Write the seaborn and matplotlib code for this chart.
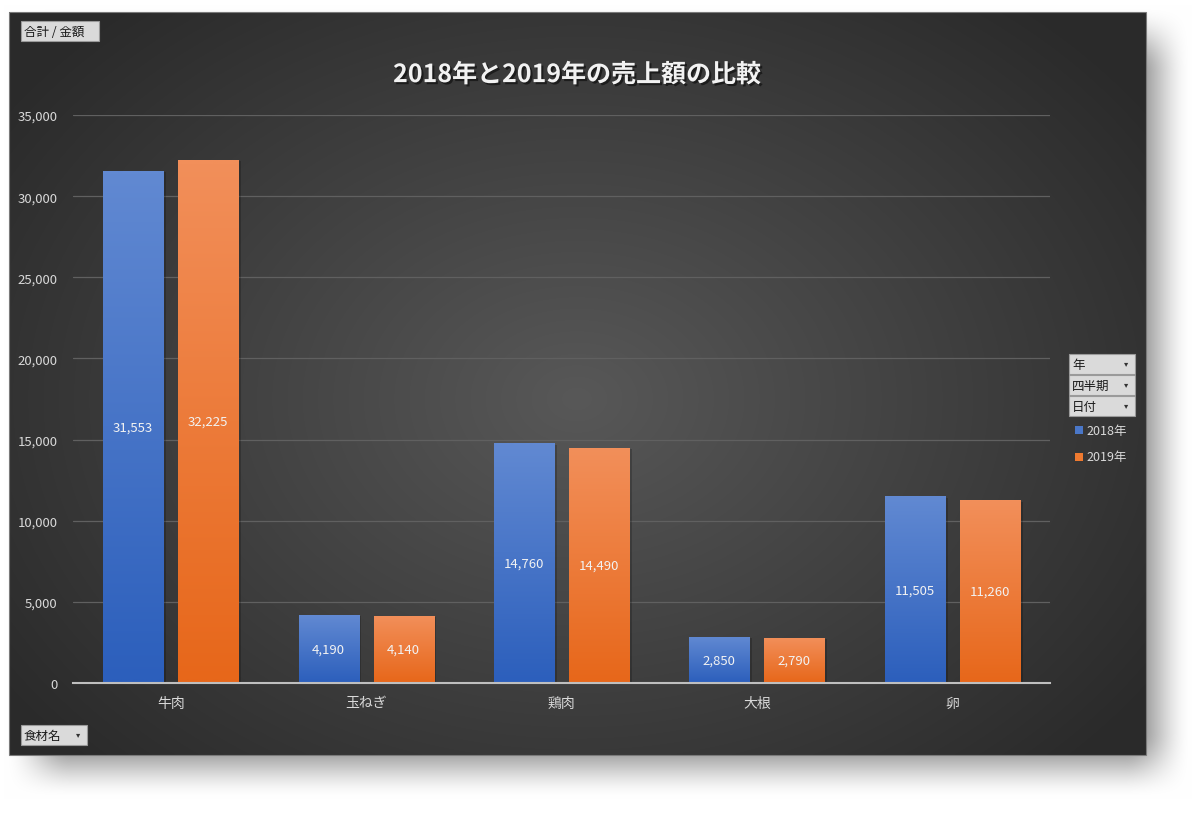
import matplotlib
matplotlib.use("Agg")
import matplotlib.pyplot as plt
import matplotlib.patheffects as pe
from matplotlib.colors import to_rgb
from matplotlib.patches import Rectangle
import numpy as np
import pandas as pd
import seaborn as sns

W, H = 1200, 829

foods = ["牛肉", "玉ねぎ", "鶏肉", "大根", "卵"]
years = ["2018年", "2019年"]
sales_2018 = [31553, 4190, 14760, 2850, 11505]
sales_2019 = [32225, 4140, 14490, 2790, 11260]
y_ticks = [0, 5000, 10000, 15000, 20000, 25000, 30000, 35000]

title = "2018年と2019年の売上額の比較"
palette = {"2018年": "#4a77c8", "2019年": "#ef7a30"}
grad = {"2018年": ("#6189d2", "#2c5fbc"), "2019年": ("#f28f5a", "#e7671a")}

sns.set_theme(style="white")
plt.rcParams["font.family"] = ["Noto Sans CJK JP", "DejaVu Sans"]
plt.rcParams["axes.unicode_minus"] = False


def smooth(v):
    v = np.clip(v, 0, 1)
    return v * v * (3 - 2 * v)


def ramp(v, lo, hi, blur):
    a = smooth((v - (lo - blur)) / (2 * blur))
    b = smooth(((hi + blur) - v) / (2 * blur))
    return np.minimum(a, b)


def background():
    yy, xx = np.mgrid[0:H, 0:W] + 0.5
    img = np.ones((H, W, 3))
    shadow = ramp(xx, 38, 1158, 34) * ramp(yy, 40, 766, 34)
    img *= (1 - 0.48 * shadow)[..., None]
    px0, px1, py0, py1 = 9, 1146, 13, 756
    cx, cy = 577, 400
    r = np.sqrt(((xx - cx) / 700) ** 2 + ((yy - cy) / 520) ** 2)
    val = 0.345 - 0.18 * np.clip(r, 0, 1)
    inside = (xx >= px0) & (xx <= px1) & (yy >= py0) & (yy <= py1)
    img[inside] = val[inside][:, None]
    return img


def button(bx, x0, y0, x1, y1, label, arrow=True):
    bx.add_patch(Rectangle((x0, y0), x1 - x0, y1 - y0, facecolor="#dadada",
                           edgecolor="#9a9a9a", lw=0.8, zorder=2))
    bx.text(x0 + 3, (y0 + y1) / 2, label, fontsize=9, color="#1a1a1a",
            ha="left", va="center", zorder=3)
    if arrow:
        bx.text(x1 - 9, (y0 + y1) / 2 - 1, "▾", fontsize=6, color="#333333",
                ha="center", va="center", zorder=3, family=["DejaVu Sans"])


fig = plt.figure(figsize=(W / 100, H / 100), dpi=100)

bx = fig.add_axes([0, 0, 1, 1], zorder=-10)
bx.imshow(background(), extent=(0, W, H, 0), aspect="auto", interpolation="bilinear")
bx.add_patch(Rectangle((9, 13), 1137, 743, facecolor="none", edgecolor="#7a7a7a", lw=0.8))
bx.set_xlim(0, W)
bx.set_ylim(H, 0)
bx.axis("off")

df = pd.DataFrame({
    "食材名": foods * 2,
    "年": [years[0]] * len(foods) + [years[1]] * len(foods),
    "金額": sales_2018 + sales_2019,
})

ax = fig.add_axes([73 / W, 1 - 684 / H, (1050 - 73) / W, (684 - 116) / H])
ax.patch.set_alpha(0)
sns.barplot(data=df, x="食材名", y="金額", hue="年", hue_order=years, order=foods,
            palette=palette, width=0.768, gap=0.2, errorbar=None, legend=False,
            edgecolor="#3a3a3a", linewidth=0.6, ax=ax)

for container, year in zip(ax.containers, years):
    top, bottom = (np.array(to_rgb(c)) for c in grad[year])
    t = np.linspace(0, 1, 64)[:, None, None]
    g = top * (1 - t) + bottom * t
    for patch in container:
        patch.set_path_effects([pe.SimplePatchShadow(offset=(2, -1), shadow_rgbFace="black", alpha=0.2),
                                pe.Normal()])
        x0, y0 = patch.get_x(), patch.get_y()
        w, h = patch.get_width(), patch.get_height()
        im = ax.imshow(g, extent=[x0, x0 + w, y0, y0 + h], aspect="auto",
                       origin="upper", zorder=patch.get_zorder() + 0.1, interpolation="bilinear")
        im.set_clip_path(patch)
    ax.bar_label(container, labels=[f"{v:,.0f}" for v in container.datavalues],
                 label_type="center", color="#f2f2f2", fontsize=9.5, zorder=5)

ax.set_xlim(-0.5, len(foods) - 0.5)
ax.set_ylim(0, 35000)
ax.set_yticks(y_ticks)
ax.set_yticklabels([f"{v:,}" for v in y_ticks])
ax.set_xlabel("")
ax.set_ylabel("")
ax.grid(axis="y", color="#606060", lw=0.9)
ax.set_axisbelow(True)
for side in ["top", "right", "left"]:
    ax.spines[side].set_visible(False)
ax.spines["bottom"].set_color("#bfbfbf")
ax.spines["bottom"].set_linewidth(1.5)
ax.spines["bottom"].set_zorder(6)
ax.tick_params(axis="y", length=0, pad=11, labelsize=9.5, labelcolor="#d9d9d9")
ax.tick_params(axis="x", length=0, pad=9, labelsize=10, labelcolor="#d9d9d9")

bx.text(577, 76, title, fontsize=18, fontweight="bold", color="#f2f2f2",
        ha="center", va="center",
        path_effects=[pe.withSimplePatchShadow(offset=(1.5, -1.5), shadow_rgbFace="black", alpha=0.5)])

button(bx, 21, 22, 99, 42, "合計 / 金額", arrow=False)
button(bx, 21, 726, 87, 746, "食材名")
button(bx, 1069, 355, 1135, 375, "年")
button(bx, 1069, 376, 1135, 396, "四半期")
button(bx, 1069, 397, 1135, 417, "日付")

for i, year in enumerate(years):
    yc = 431 + 27 * i
    bx.add_patch(Rectangle((1075, yc - 4), 8, 8, facecolor=palette[year], edgecolor="none"))
    bx.text(1086, yc, year, fontsize=9, color="#d9d9d9", ha="left", va="center")

fig.savefig("out.png", dpi=100)
plt.close(fig)
